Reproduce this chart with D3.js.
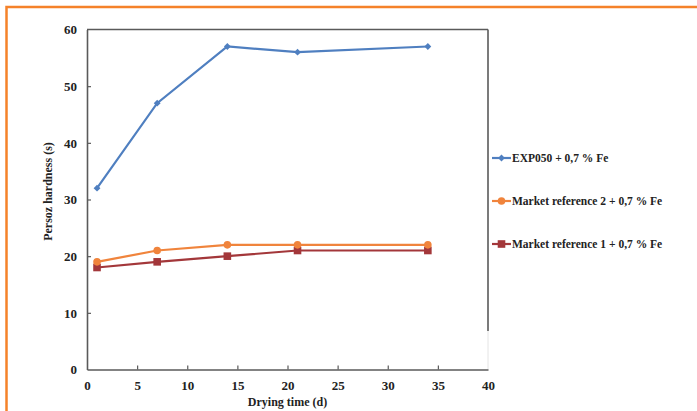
<!DOCTYPE html>
<html><head><meta charset="utf-8">
<script src="https://cdn.jsdelivr.net/npm/d3@7"></script>
<style>body{margin:0;background:#fff}svg{display:block}</style>
</head><body>
<svg id="c" width="697" height="411"></svg>
<script>
const days = [1, 7, 14, 21, 34];
const exp050 = [32, 47, 57, 56, 57];
const marketRef2 = [19, 21, 22, 22, 22];
const marketRef1 = [18, 19, 20, 21, 21];
const seriesNames = ["EXP050 + 0,7 % Fe", "Market reference 2 + 0,7 % Fe", "Market reference 1 + 0,7 % Fe"];
const xTicks = [0, 5, 10, 15, 20, 25, 30, 35, 40];
const yTicks = [0, 10, 20, 30, 40, 50, 60];

const svg = d3.select("#c");
const font = "'Liberation Serif', 'Times New Roman', serif";

// orange frame
svg.append("rect").attr("x", 6.5).attr("y", 7).attr("width", 720).attr("height", 430)
  .attr("fill", "none").attr("stroke", "#f5822a").attr("stroke-width", 2.5);

const L = 87, R = 488, T = 29.5, B = 369.5;
const x = d3.scaleLinear().domain([0, 40]).range([L, R]);
const y = d3.scaleLinear().domain([0, 60]).range([B, T]);

const axCol = "#5a5a5a";
// plot frame
svg.append("line").attr("x1", L).attr("x2", R).attr("y1", T).attr("y2", T).attr("stroke", axCol).attr("stroke-width", 1.6);
svg.append("line").attr("x1", R).attr("x2", R).attr("y1", T).attr("y2", 331).attr("stroke", axCol).attr("stroke-width", 1.6);
svg.append("line").attr("x1", R).attr("x2", R).attr("y1", 331).attr("y2", B).attr("stroke", "#e4e4e4").attr("stroke-width", 1);

const xAxis = svg.append("g").attr("transform", `translate(0,${B})`)
  .call(d3.axisBottom(x).tickValues(xTicks).tickSizeInner(-4).tickSizeOuter(0).tickPadding(11));
const yAxis = svg.append("g").attr("transform", `translate(${L},0)`)
  .call(d3.axisLeft(y).tickValues(yTicks).tickSizeInner(-4).tickSizeOuter(0).tickPadding(10));
[xAxis, yAxis].forEach(a => {
  a.select(".domain").attr("stroke", axCol).attr("stroke-width", 1.6);
  a.selectAll(".tick line").attr("stroke", axCol).attr("stroke-width", 1.2);
  a.selectAll("text").attr("font-family", font).attr("font-size", 13).attr("font-weight", "bold").attr("fill", "#222");
});
xAxis.selectAll(".tick").filter(d => d === 0 || d === 40).select("line").remove();
yAxis.selectAll(".tick").filter(d => d === 0 || d === 60).select("line").remove();

svg.append("text").attr("x", (L + R) / 2).attr("y", 406).attr("text-anchor", "middle")
  .attr("font-family", font).attr("font-size", 12).attr("font-weight", "bold").attr("fill", "#222")
  .text("Drying time (d)");
svg.append("text").attr("transform", `translate(52,${(T + B) / 2 - 8}) rotate(-90)`).attr("text-anchor", "middle")
  .attr("font-family", font).attr("font-size", 12).attr("font-weight", "bold").attr("fill", "#222")
  .text("Persoz hardness (s)");

const colors = ["#4f7fc0", "#f0843c", "#a3373a"];
const allData = [exp050, marketRef2, marketRef1];
const line = d3.line().x(d => x(d[0])).y(d => y(d[1]));

function marker(g, i, cx, cy) {
  if (i === 0) {
    g.append("path").attr("d", d3.symbol(d3.symbolDiamond2, 30)()).attr("transform", `translate(${cx},${cy})`).attr("fill", colors[i]);
  } else if (i === 1) {
    g.append("circle").attr("cx", cx).attr("cy", cy).attr("r", 3.8).attr("fill", colors[i]);
  } else {
    g.append("rect").attr("x", cx - 3.8).attr("y", cy - 3.8).attr("width", 7.6).attr("height", 7.6).attr("fill", colors[i]);
  }
}

// draw in reverse so blue on top
[2, 1, 0].forEach(i => {
  const pts = days.map((d, k) => [d, allData[i][k]]);
  const g = svg.append("g");
  g.append("path").attr("d", line(pts)).attr("fill", "none").attr("stroke", colors[i]).attr("stroke-width", 2.2);
  pts.forEach(p => marker(g, i, x(p[0]), y(p[1])));
});

// legend
const legY = [158, 201, 244];
seriesNames.forEach((n, i) => {
  const g = svg.append("g");
  g.append("line").attr("x1", 492).attr("x2", 511).attr("y1", legY[i]).attr("y2", legY[i]).attr("stroke", colors[i]).attr("stroke-width", 2.2);
  marker(g, i, 501.5, legY[i]);
  g.append("text").attr("x", 512).attr("y", legY[i] + 4).attr("font-family", font).attr("font-size", 11.5)
    .attr("font-weight", "bold").attr("fill", "#222").text(n);
});
</script>
</body></html>
